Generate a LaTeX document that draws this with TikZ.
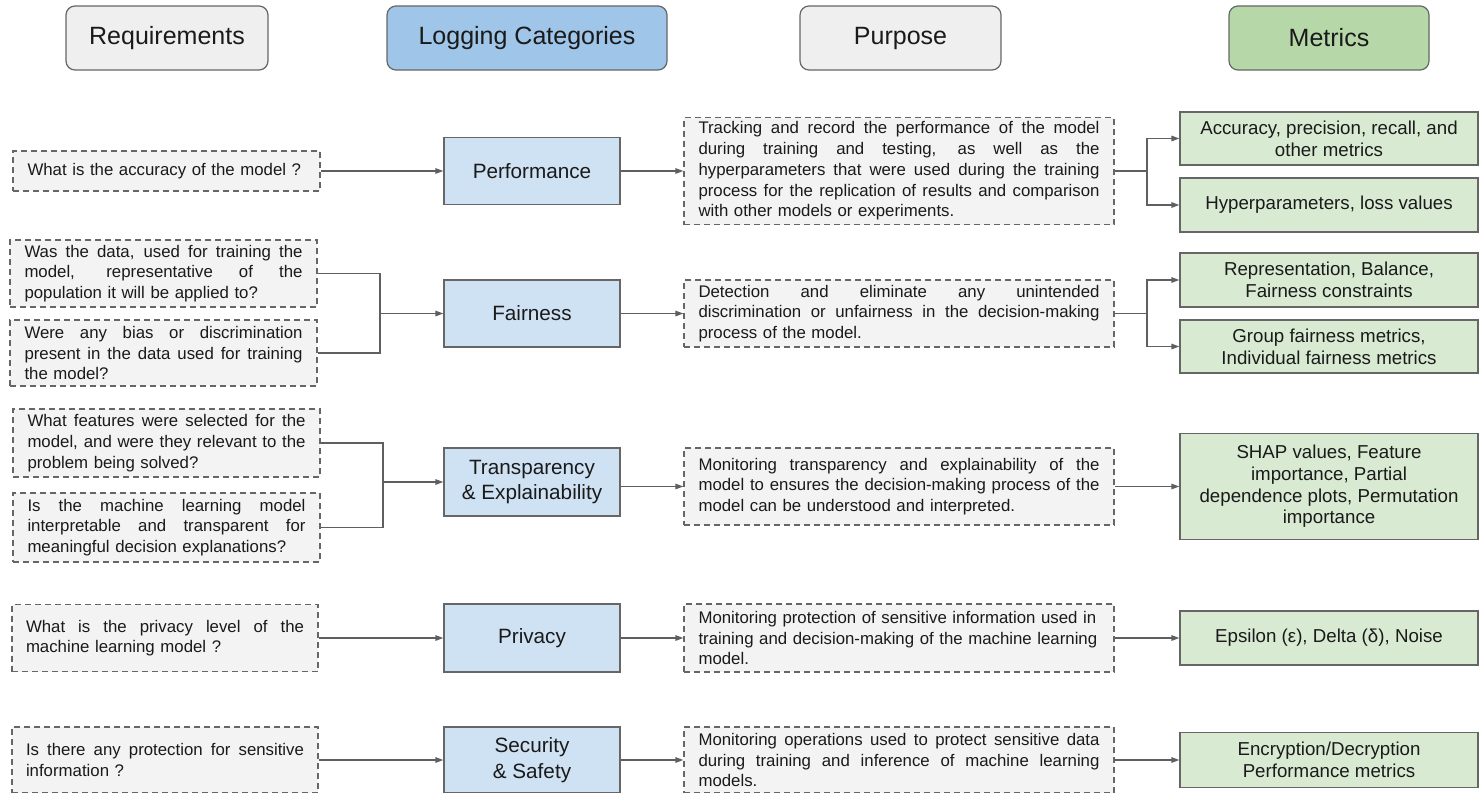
\documentclass[tikz,border=0pt]{standalone}
\usepackage{fontspec}
\setmainfont{Liberation Sans}
\usetikzlibrary{arrows.meta}
\definecolor{hdrgray}{HTML}{EFEFEF}
\definecolor{hdrblue}{HTML}{9FC5E8}
\definecolor{hdrgreen}{HTML}{B6D7A8}
\definecolor{catblue}{HTML}{CFE2F3}
\definecolor{metgreen}{HTML}{D9EAD3}
\definecolor{qgray}{HTML}{F3F3F3}
\definecolor{edgec}{HTML}{666666}
\definecolor{linec}{HTML}{5F5F5F}
\definecolor{txt}{HTML}{1A1A1A}
\newdimen\qwid \qwid=278pt
\newdimen\pwid \pwid=401pt
\newcommand{\spreadline}[2]{\leavevmode\hbox to #1{\spaceskip=\fontdimen2\font plus 1fil\relax\xspaceskip=\spaceskip #2}}
\newcommand{\jq}[1]{\spreadline{\qwid}{#1}}
\newcommand{\jp}[1]{\spreadline{\pwid}{#1}}
\tikzset{
  hdr/.style={draw=edgec, line width=1.2pt, rounded corners=9pt, minimum height=64pt,
    text=txt, font=\fontsize{25}{30}\selectfont},
  qbox/.style={draw=edgec, dash pattern=on 6pt off 4pt, line width=1.3pt, fill=qgray,
    inner sep=0pt, text width=278pt, minimum width=307pt, align=left, text=txt,
    font=\fontsize{16.8}{20.7}\selectfont},
  pbox/.style={qbox, text width=401pt, minimum width=430pt},
  catbox/.style={draw=edgec, line width=1.3pt, fill=catblue, minimum width=176pt,
    align=center, text=txt, font=\fontsize{20.7}{25.7}\selectfont},
  mbox/.style={draw=edgec, line width=1.3pt, fill=metgreen, minimum width=298pt,
    align=center, text=txt, font=\fontsize{18.7}{21.7}\selectfont},
  wire/.style={draw=linec, line width=1.4pt},
  conn/.style={wire, -{Triangle[length=8pt,width=5.5pt]}}
}
\begin{document}
\begin{tikzpicture}[x=1pt,y=-1pt]
\fill[white] (0,0) rectangle (1479,792);
\useasboundingbox (0,0) rectangle (1479,792);

% headers
\node[hdr, fill=hdrgray, minimum width=202pt] (hreq) at (167,38) {Requirements};
\node[hdr, fill=hdrblue, minimum width=280pt] (hlog) at (527,38) {Logging Categories};
\node[hdr, fill=hdrgray, minimum width=201pt] (hpur) at (900.5,38) {Purpose};
\node[hdr, fill=hdrgreen, minimum width=200pt] (hmet) at (1329,38) {Metrics};

% requirements
\node[qbox, minimum height=40pt] (q1) at (166.5,171) {What is the accuracy of the model ?};
\node[qbox, minimum height=67pt] (q2) at (163.5,273.5) {\jq{Was the data, used for training the}\\\jq{model, representative of the}\\population it will be applied to?};
\node[qbox, minimum height=66pt] (q3) at (163.5,353) {\jq{Were any bias or discrimination}\\\jq{present in the data used for training}\\the model?};
\node[qbox, minimum height=68pt] (q4) at (166.5,443) {\jq{What features were selected for the}\\\jq{model, and were they relevant to the}\\problem being solved?};
\node[qbox, minimum height=69pt] (q5) at (166.5,527.5) {\jq{Is the machine learning model}\\\jq{interpretable and transparent for}\\meaningful decision explanations?};
\node[qbox, minimum width=306pt, minimum height=67pt] (q6) at (165,638) {\jq{What is the privacy level of the}\\machine learning model ?};
\node[qbox, minimum width=306pt, minimum height=66pt] (q7) at (165,760) {\jq{Is there any protection for sensitive}\\information ?};

% categories
\node[catbox, minimum height=67pt] (perf) at (532,171) {Performance};
\node[catbox, minimum height=67pt] (fair) at (532,313.5) {Fairness};
\node[catbox, minimum height=68pt] (trans) at (532,482) {Transparency\\\& Explainability};
\node[catbox, minimum height=68pt] (priv) at (532,638) {Privacy};
\node[catbox, minimum height=66pt] (sec) at (532,760) {Security\\\& Safety};

% purposes
\node[pbox, minimum height=107pt] (p1) at (899,171) {\jp{Tracking and record the performance of the model}\\\jp{during training and testing, as well as the}\\\jp{hyperparameters that were used during the training}\\\jp{process for the replication of results and comparison}\\with other models or experiments.};
\node[pbox, minimum height=67pt] (p2) at (899,313.5) {\jp{Detection and eliminate any unintended}\\\jp{discrimination or unfairness in the decision-making}\\process of the model.};
\node[pbox, minimum height=77pt] (p3) at (899,486.5) {\jp{Monitoring transparency and explainability of the}\\\jp{model to ensures the decision-making process of the}\\model can be understood and interpreted.};
\node[pbox, minimum height=68pt] (p4) at (899,638) {Monitoring protection of sensitive information used in\\training and decision-making of the machine learning\\model.};
\node[pbox, minimum height=66pt] (p5) at (899,760) {\jp{Monitoring operations used to protect sensitive data}\\\jp{during training and inference of machine learning}\\models.};

% metrics
\node[mbox, minimum height=53pt] (m1) at (1329,138.5) {Accuracy, precision, recall, and\\other metrics};
\node[mbox, minimum height=54pt] (m2) at (1329,205) {Hyperparameters, loss values};
\node[mbox, minimum height=54pt] (m3) at (1329,280) {Representation, Balance,\\Fairness constraints};
\node[mbox, minimum height=53pt] (m4) at (1329,346.5) {Group fairness metrics,\\Individual fairness metrics};
\node[mbox, minimum height=106pt] (m5) at (1329,486.5) {SHAP values, Feature\\importance, Partial\\dependence plots, Permutation\\importance};
\node[mbox, minimum height=54pt] (m6) at (1329,638) {Epsilon (ε), Delta (δ), Noise};
\node[mbox, minimum height=55pt] (m7) at (1329,760) {Encryption/Decryption\\Performance metrics};

% junction points
\coordinate (j1) at (1147,171);
\coordinate (j2) at (380,313.5);
\coordinate (j3) at (1147,313.5);
\coordinate (j4) at (383,482);

% row 1
\draw[conn] (q1.east) -- (perf.west);
\draw[conn] (perf.east) -- (p1.west);
\draw[wire] (p1.east) -- (j1);
\draw[conn] (j1) |- (m1.west);
\draw[conn] (j1) |- (m2.west);
% row 2
\draw[wire] (q2.east) -| (j2);
\draw[wire] (q3.east) -| (j2);
\draw[conn] (j2) -- (fair.west);
\draw[conn] (fair.east) -- (p2.west);
\draw[wire] (p2.east) -- (j3);
\draw[conn] (j3) |- (m3.west);
\draw[conn] (j3) |- (m4.west);
% row 3
\draw[wire] (q4.east) -| (j4);
\draw[wire] (q5.east) -| (j4);
\draw[conn] (j4) -- (trans.west);
\draw[conn] (trans.east |- p3.west) -- (p3.west);
\draw[conn] (p3.east) -- (m5.west);
% row 4
\draw[conn] (q6.east) -- (priv.west);
\draw[conn] (priv.east) -- (p4.west);
\draw[conn] (p4.east) -- (m6.west);
% row 5
\draw[conn] (q7.east) -- (sec.west);
\draw[conn] (sec.east) -- (p5.west);
\draw[conn] (p5.east) -- (m7.west);
\end{tikzpicture}
\end{document}
